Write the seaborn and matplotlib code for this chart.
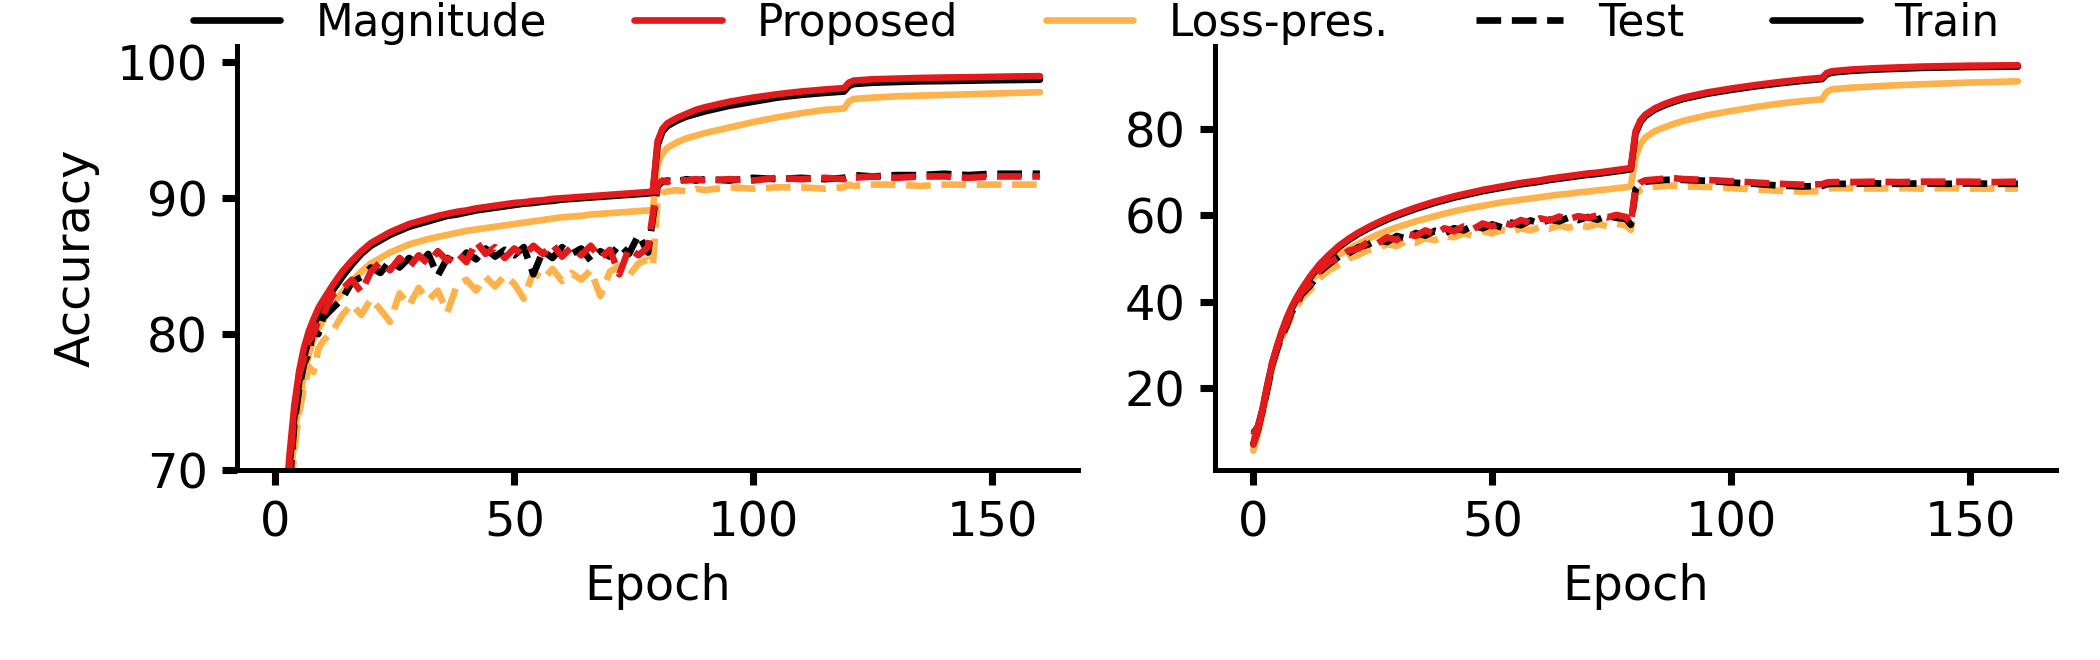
import matplotlib
matplotlib.use("Agg")
import matplotlib.pyplot as plt
from matplotlib.lines import Line2D
import pandas as pd
import seaborn as sns

# epochs shared by both panels (denser where curves bend)
epochs = [0, 1, 2, 3, 4, 5, 6, 7, 8, 9, 10,
          12, 14, 16, 18, 20, 22, 24, 26, 28, 30, 32, 34, 36, 38, 40, 42, 44,
          46, 48, 50, 52, 54, 56, 58, 60, 62, 64, 66, 68, 70, 72, 74, 76, 78,
          79, 80, 81, 82,
          84, 86, 88, 90,
          95, 100, 105, 110, 115,
          119, 120, 121,
          125, 130, 135, 140, 145, 150, 155, 160]

# ---- left panel ----
left_train_mag = [45, 58, 66, 70.5, 74.0, 76.5, 78.3, 79.6, 80.6, 81.4, 82.0,
                  83.2, 84.2, 85.1, 85.9, 86.5, 86.9, 87.3, 87.6, 87.9, 88.1,
                  88.3, 88.5, 88.7, 88.8, 88.95, 89.1, 89.2, 89.3, 89.4, 89.5,
                  89.6, 89.65, 89.75, 89.8, 89.9, 89.95, 90.0, 90.05, 90.1, 90.15,
                  90.2, 90.25, 90.3, 90.35,
                  90.4, 93.9, 94.9, 95.3,
                  95.7, 96.0, 96.2, 96.4,
                  96.8, 97.1, 97.4, 97.6, 97.75,
                  97.85, 98.25, 98.4,
                  98.5, 98.55, 98.6, 98.62, 98.65, 98.68, 98.7, 98.72]
left_train_prop = [46, 59, 67, 71.2, 74.8, 77.3, 79.0, 80.2, 81.1, 81.9, 82.5,
                   83.6, 84.6, 85.4, 86.1, 86.7, 87.1, 87.5, 87.8, 88.1, 88.3,
                   88.5, 88.7, 88.85, 89.0, 89.1, 89.25, 89.35, 89.45, 89.55, 89.65,
                   89.7, 89.8, 89.85, 89.95, 90.0, 90.05, 90.1, 90.15, 90.2, 90.25,
                   90.3, 90.35, 90.4, 90.45,
                   90.5, 94.2, 95.1, 95.5,
                   95.9, 96.2, 96.5, 96.7,
                   97.1, 97.4, 97.65, 97.85, 98.0,
                   98.1, 98.5, 98.65,
                   98.75, 98.8, 98.85, 98.88, 98.9, 98.93, 98.96, 98.98]
left_train_loss = [40, 54, 63, 68.5, 72.5, 75.0, 77.0, 78.5, 79.6, 80.4, 81.0,
                   82.2, 83.1, 83.9, 84.6, 85.2, 85.6, 86.0, 86.3, 86.6, 86.8,
                   87.0, 87.15, 87.3, 87.45, 87.6, 87.7, 87.8, 87.9, 88.0, 88.1,
                   88.2, 88.3, 88.4, 88.5, 88.6, 88.65, 88.7, 88.8, 88.85, 88.9,
                   88.95, 89.0, 89.05, 89.1,
                   89.15, 92.5, 93.3, 93.7,
                   94.1, 94.4, 94.6, 94.8,
                   95.2, 95.6, 95.95, 96.25, 96.5,
                   96.6, 97.1, 97.3,
                   97.4, 97.5, 97.55, 97.6, 97.65, 97.7, 97.75, 97.8]
left_test_mag = [42, 55, 63, 69, 73.5, 76.0, 77.8, 78.6, 80.3, 80.0, 81.2,
                 81.9, 82.6, 83.8, 84.2, 84.9, 84.5, 85.4, 84.9, 85.6, 85.1,
                 85.9, 84.3, 85.6, 85.2, 86.0, 85.5, 86.3, 85.7, 86.2, 85.8,
                 86.4, 84.4, 86.1, 85.6, 86.4, 85.9, 86.3, 85.4, 86.1, 85.7,
                 86.6, 85.9, 87.3, 86.0,
                 88.5, 90.9, 91.2, 91.3,
                 91.2, 91.4, 91.3, 91.4,
                 91.3, 91.5, 91.4, 91.5, 91.4,
                 91.5, 91.6, 91.7,
                 91.6, 91.7, 91.7, 91.8, 91.7, 91.8, 91.8, 91.8]
left_test_prop = [43, 56, 64, 70, 74.5, 77.0, 78.2, 79.5, 80.0, 81.0, 81.4,
                  82.9, 83.3, 84.0, 83.1, 84.6, 85.3, 84.7, 85.6, 84.9, 85.8,
                  85.2, 86.1, 85.4, 86.0, 85.3, 86.8, 85.9, 86.4, 85.6, 86.3,
                  85.8, 86.5, 85.9, 86.6, 85.7, 86.4, 85.8, 86.5, 85.6, 86.2,
                  84.4, 86.3, 85.8, 86.4,
                  88.8, 91.0, 91.3, 91.2,
                  91.4, 91.3, 91.4, 91.3,
                  91.4, 91.3, 91.5, 91.4, 91.5,
                  91.4, 91.6, 91.5,
                  91.6, 91.5, 91.6, 91.6, 91.5, 91.6, 91.6, 91.6]
left_test_loss = [38, 51, 61, 67, 71.5, 74.3, 76.0, 77.6, 77.2, 78.9, 79.5,
                  80.2, 81.4, 82.2, 81.4, 82.6, 81.8, 80.9, 83.0, 82.1, 83.4,
                  82.5, 83.2, 81.6, 83.6, 84.0, 83.2, 84.2, 83.5, 84.3, 83.7,
                  82.6, 84.6, 84.0, 84.8, 83.9, 84.5, 84.0, 84.7, 82.8, 84.6,
                  85.0, 84.3, 85.2, 85.5,
                  85.0, 89.9, 90.4, 90.5,
                  90.6, 90.5, 90.7, 90.6,
                  90.8, 90.7, 90.8, 90.8, 90.7,
                  90.8, 91.0, 90.9,
                  91.0, 91.0, 90.9, 91.0, 91.0, 91.0, 91.0, 91.0]

# ---- right panel ----
right_train_mag = [7.0, 10.3, 15.2, 20.7, 25.7, 29.5, 32.9, 35.9, 38.4, 40.5, 42.4,
                   45.7, 48.5, 50.7, 52.7, 54.3, 55.7, 56.9, 58.0, 59.0, 59.9,
                   60.7, 61.5, 62.2, 62.9, 63.5, 64.1, 64.6, 65.1, 65.6, 66.0,
                   66.4, 66.8, 67.2, 67.5, 67.8, 68.2, 68.5, 68.8, 69.1, 69.4,
                   69.6, 69.9, 70.2, 70.5,
                   70.7, 79.0, 81.6, 83.0,
                   84.5, 85.5, 86.3, 87.0,
                   88.2, 89.1, 89.9, 90.6, 91.2,
                   91.6, 92.7, 93.1,
                   93.5, 93.8, 94.0, 94.2, 94.3, 94.4, 94.45, 94.5]
right_train_prop = [6.8, 10.5, 15.5, 21.0, 26.0, 29.8, 33.2, 36.2, 38.7, 40.8, 42.7,
                    46.0, 48.8, 51.0, 53.0, 54.6, 56.0, 57.2, 58.3, 59.3, 60.2,
                    61.0, 61.8, 62.5, 63.2, 63.8, 64.4, 64.9, 65.4, 65.9, 66.3,
                    66.7, 67.1, 67.5, 67.8, 68.1, 68.5, 68.8, 69.1, 69.4, 69.7,
                    69.9, 70.2, 70.5, 70.8,
                    71.0, 79.5, 82.0, 83.3,
                    84.8, 85.8, 86.6, 87.3,
                    88.5, 89.4, 90.2, 90.9, 91.5,
                    91.9, 93.0, 93.4,
                    93.8, 94.1, 94.3, 94.5, 94.6, 94.7, 94.75, 94.8]
right_train_loss = [5.4, 9.5, 14.5, 20.0, 25.0, 29.0, 32.5, 35.5, 38.0, 40.0, 41.8,
                    44.8, 47.3, 49.3, 50.9, 52.2, 53.4, 54.5, 55.5, 56.4, 57.2,
                    57.9, 58.6, 59.2, 59.8, 60.4, 60.9, 61.4, 61.8, 62.2, 62.6,
                    63.0, 63.3, 63.6, 63.9, 64.2, 64.5, 64.8, 65.0, 65.3, 65.5,
                    65.8, 66.0, 66.3, 66.5,
                    66.7, 73.5, 76.5, 78.0,
                    79.5, 80.4, 81.2, 81.9,
                    83.2, 84.2, 85.1, 85.9, 86.5,
                    86.9, 88.6, 89.2,
                    89.6, 89.9, 90.2, 90.4, 90.6, 90.8, 90.9, 91.1]
right_test_mag = [9.5, 11.0, 15.0, 20.0, 25.5, 29.0, 32.0, 34.5, 37.5, 39.0, 41.5,
                  43.8, 47.0, 48.8, 50.5, 51.2, 52.6, 53.2, 54.3, 53.8, 55.2,
                  54.6, 55.9, 55.3, 56.4, 55.8, 57.0, 56.5, 57.6, 57.0, 57.9,
                  57.2, 58.3, 57.7, 58.8, 58.1, 59.0, 58.6, 59.5, 58.9, 59.6,
                  59.0, 59.9, 59.4, 59.2,
                  57.8, 66.0, 67.3, 67.8,
                  68.0, 68.2, 68.3, 68.2,
                  68.0, 67.6, 67.3, 66.9, 66.7,
                  66.8, 67.2, 67.3,
                  67.3, 67.4, 67.3, 67.4, 67.3, 67.4, 67.3, 67.3]
right_test_prop = [9.0, 11.2, 15.4, 20.5, 26.0, 29.5, 32.6, 35.0, 38.0, 39.6, 42.0,
                   44.2, 47.4, 49.2, 50.2, 51.8, 52.3, 53.8, 53.5, 54.9, 54.3,
                   55.7, 55.2, 56.5, 55.6, 57.0, 56.3, 57.4, 56.8, 58.1, 57.4,
                   58.4, 57.8, 58.9, 58.2, 59.3, 58.8, 59.7, 59.1, 59.8, 59.4,
                   60.0, 59.5, 60.1, 59.6,
                   58.0, 66.5, 67.6, 68.1,
                   68.3, 68.5, 68.6, 68.4,
                   68.2, 67.9, 67.6, 67.3, 67.1,
                   67.2, 67.6, 67.7,
                   67.7, 67.8, 67.7, 67.8, 67.8, 67.8, 67.7, 67.8]
right_test_loss = [8.0, 10.5, 14.8, 19.8, 25.0, 28.6, 31.5, 34.0, 36.5, 38.5, 40.6,
                   42.8, 45.6, 47.4, 48.6, 50.0, 50.8, 51.9, 52.4, 53.3, 52.9,
                   54.0, 53.6, 54.7, 54.2, 55.2, 54.9, 55.8, 55.3, 56.3, 55.8,
                   56.6, 56.1, 57.0, 56.5, 57.3, 56.9, 57.6, 57.1, 57.8, 57.3,
                   58.0, 57.5, 58.1, 57.6,
                   56.6, 64.8, 65.9, 66.4,
                   66.6, 66.8, 66.9, 66.7,
                   66.6, 66.3, 66.0, 65.7, 65.5,
                   65.6, 66.1, 66.3,
                   66.3, 66.2, 66.3, 66.2, 66.3, 66.2, 66.2, 66.2]

methods = ["Magnitude", "Proposed", "Loss-pres."]
colors = {"Magnitude": "black", "Proposed": "#e31a1c", "Loss-pres.": "#feb24c"}
draw_order = ["Loss-pres.", "Magnitude", "Proposed"]


def to_long(series):
    rows = []
    for (method, split), vals in series.items():
        assert len(vals) == len(epochs)
        for e, v in zip(epochs, vals):
            rows.append((e, v, method, split))
    return pd.DataFrame(rows, columns=["epoch", "acc", "method", "split"])


df_left = to_long({
    ("Magnitude", "Train"): left_train_mag,
    ("Proposed", "Train"): left_train_prop,
    ("Loss-pres.", "Train"): left_train_loss,
    ("Magnitude", "Test"): left_test_mag,
    ("Proposed", "Test"): left_test_prop,
    ("Loss-pres.", "Test"): left_test_loss,
})
df_right = to_long({
    ("Magnitude", "Train"): right_train_mag,
    ("Proposed", "Train"): right_train_prop,
    ("Loss-pres.", "Train"): right_train_loss,
    ("Magnitude", "Test"): right_test_mag,
    ("Proposed", "Test"): right_test_prop,
    ("Loss-pres.", "Test"): right_test_loss,
})

sns.set_style("ticks")
plt.rcParams.update({
    "font.family": ["DejaVu Sans"],
    "text.color": "black",
    "axes.labelcolor": "black",
    "axes.edgecolor": "black",
    "xtick.color": "black",
    "ytick.color": "black",
    "axes.linewidth": 1.2,
    "xtick.major.width": 1.7,
    "ytick.major.width": 1.7,
    "xtick.major.size": 3.6,
    "ytick.major.size": 3.6,
    "xtick.labelsize": 11.5,
    "ytick.labelsize": 11.5,
    "axes.labelsize": 11.5,
})

fig = plt.figure(figsize=(7, 2.2), dpi=300)
ax1 = fig.add_axes([0.1129, 0.2879, 0.4005, 0.6424])
ax2 = fig.add_axes([0.5786, 0.2879, 0.4005, 0.6424])

for ax, df in [(ax1, df_left), (ax2, df_right)]:
    sns.lineplot(data=df, x="epoch", y="acc", hue="method", style="split",
                 hue_order=draw_order, style_order=["Test", "Train"],
                 palette=colors, dashes={"Train": "", "Test": (3.7, 1.6)},
                 estimator=None, lw=1.6, legend=False, ax=ax)
    ax.set_xlim(-8, 168)
    ax.set_xticks([0, 50, 100, 150])
    ax.set_xlabel("Epoch")
    sns.despine(ax=ax)

ax1.set_ylim(70, 101.2)
ax1.set_yticks([70, 80, 90, 100])
ax1.set_ylabel("Accuracy")
ax2.set_yticks([20, 40, 60, 80])
ax2.set_ylabel("")

handles = [Line2D([], [], color=colors[m], lw=1.6) for m in methods]
handles += [Line2D([], [], color="black", lw=1.6, ls="--"),
            Line2D([], [], color="black", lw=1.6)]
labels = methods + ["Test", "Train"]
fig.legend(handles, labels, loc="center", bbox_to_anchor=(0.522, 0.965),
           ncol=5, frameon=False, fontsize=10.5, columnspacing=2.0)

fig.savefig("out.png", dpi=300)
